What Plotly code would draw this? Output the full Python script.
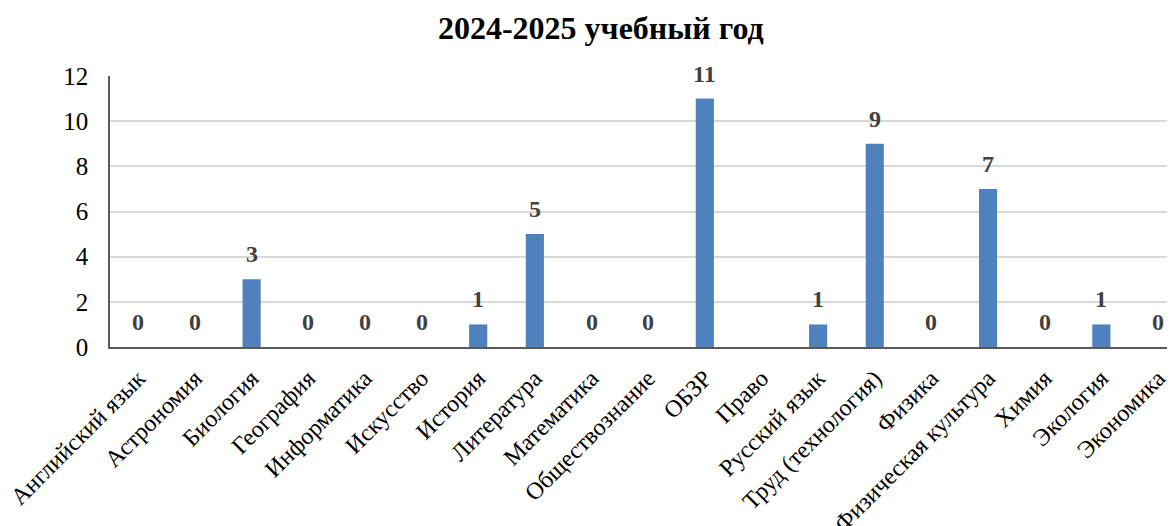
import plotly.graph_objects as go

categories = ["Английский язык", "Астрономия", "Биология", "География", "Информатика",
              "Искусство", "История", "Литература", "Математика", "Обществознание",
              "ОБЗР", "Право", "Русский язык", "Труд (технология)", "Физика",
              "Физическая культура", "Химия", "Экология", "Экономика"]
values = [0, 0, 3, 0, 0, 0, 1, 5, 0, 0, 11, None, 1, 9, 0, 7, 0, 1, 0]
y_ticks = [0, 2, 4, 6, 8, 10, 12]
title = "2024-2025 учебный год"

serif = "Liberation Serif, Times New Roman, serif"

fig = go.Figure()
fig.add_trace(go.Bar(
    x=categories, y=values, width=0.32,
    marker=dict(color="#4f81bd", line=dict(width=0)),
    hoverinfo="x+y",
))

annotations = []
for c, v in zip(categories, values):
    if v is None:
        continue
    annotations.append(dict(x=c, y=v, xref="x", yref="y", text=str(v), showarrow=False,
                            yanchor="bottom", yshift=10,
                            font=dict(family=serif, size=24, color="#404040", weight="bold")))

fig.update_layout(
    width=1167, height=518,
    margin=dict(l=102, r=0, t=68, b=179, autoexpand=False),
    paper_bgcolor="white", plot_bgcolor="white",
    title=dict(text="<b>" + title + "</b>", x=0.508, xanchor="center", y=0.962, yanchor="middle",
               font=dict(family=serif, size=32, color="black")),
    annotations=annotations,
    showlegend=False,
)
fig.update_xaxes(
    type="category", range=[-0.5, 18.3], automargin=False,
    tickangle=-45, tickfont=dict(family=serif, size=24, color="black"),
    showline=True, linecolor="#595959", linewidth=1.5,
    showgrid=False, ticks="", ticklabelstandoff=6,
)
fig.update_yaxes(
    range=[0, 12], tickvals=y_ticks, automargin=False,
    tickfont=dict(family=serif, size=25, color="black"),
    showline=True, linecolor="#595959", linewidth=1.5,
    showgrid=True, gridcolor="#d9d9d9", gridwidth=1.5,
    zeroline=False, ticks="", ticklabelstandoff=15,
)

fig.write_html("out.html")
